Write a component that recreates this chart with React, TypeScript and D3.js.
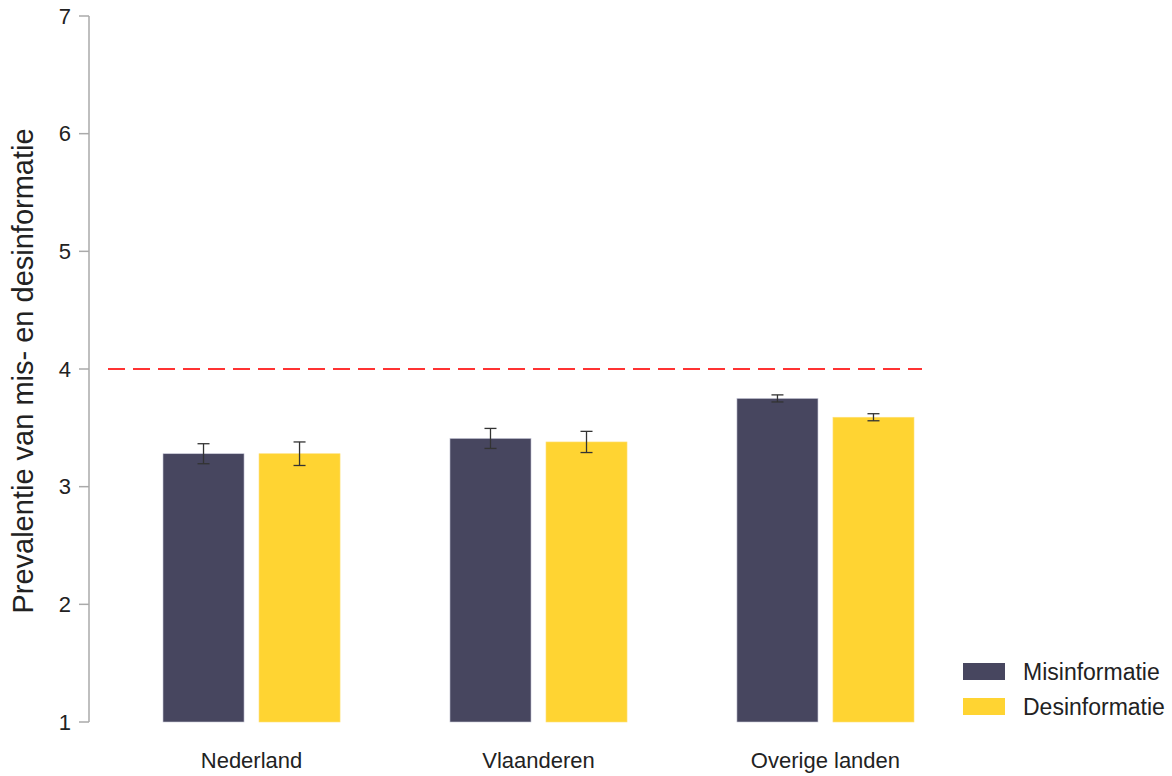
import React from "react";
import * as d3 from "d3";

const categories = ["Nederland", "Vlaanderen", "Overige landen"];
const seriesNames = ["Misinformatie", "Desinformatie"];
const misinfo = [3.28, 3.41, 3.75];
const misinfoErr = [0.085, 0.085, 0.03];
const desinfo = [3.28, 3.38, 3.59];
const desinfoErr = [0.1, 0.09, 0.03];
const yTicks = [1, 2, 3, 4, 5, 6, 7];
const refValue = 4;
const colors = ["#47465F", "#FFD432"];

export default function App() {
  const W = 1172, H = 776;
  const y = d3.scaleLinear().domain([1, 7]).range([722, 16]);
  const x0 = d3.scaleBand().domain(categories).range([163, 914]).paddingInner(0.383).paddingOuter(0);
  const x1 = d3.scaleBand().domain(seriesNames).range([0, x0.bandwidth()]).paddingInner(0.156);
  const values = [misinfo, desinfo];
  const errs = [misinfoErr, desinfoErr];
  const font = "'Liberation Sans', Arial, sans-serif";
  return (
    <svg width={W} height={H} style={{ position: "absolute", left: 0, top: 0, background: "#fff" }} fontFamily={font}>
      <line x1={89} x2={89} y1={y(7)} y2={y(1)} stroke="#aaa" strokeWidth={1.5} />
      {yTicks.map((t) => (
        <g key={t}>
          <line x1={79} x2={89} y1={y(t)} y2={y(t)} stroke="#aaa" strokeWidth={1.5} />
          <text x={71} y={y(t)} dy="0.35em" textAnchor="end" fontSize={22} fill="#222">{t}</text>
        </g>
      ))}
      <text transform={`translate(33,${(y(7) + y(1)) / 2 + 2}) rotate(-90)`} textAnchor="middle" fontSize={29} fill="#222">
        Prevalentie van mis- en desinformatie
      </text>
      {categories.map((c, i) => (
        <g key={c} transform={`translate(${x0(c)},0)`}>
          {seriesNames.map((s, j) => {
            const v = values[j][i];
            const e = errs[j][i];
            const bx = x1(s)!;
            const cx = bx + x1.bandwidth() / 2;
            return (
              <g key={s}>
                <rect x={bx} y={y(v)} width={x1.bandwidth()} height={y(1) - y(v)} fill={colors[j]} stroke={j === 0 ? "#c8c8d8" : "#ffe07a"} strokeWidth={0.6} />
                <line x1={cx} x2={cx} y1={y(v + e)} y2={y(v - e)} stroke="#333" strokeWidth={1.3} />
                <line x1={cx - 6} x2={cx + 6} y1={y(v + e)} y2={y(v + e)} stroke="#333" strokeWidth={1.3} />
                <line x1={cx - 6} x2={cx + 6} y1={y(v - e)} y2={y(v - e)} stroke="#333" strokeWidth={1.3} />
              </g>
            );
          })}
          <text x={x0.bandwidth() / 2} y={760} dy="0.35em" textAnchor="middle" fontSize={22} fill="#222">{c}</text>
        </g>
      ))}
      <line x1={108} x2={922} y1={y(refValue)} y2={y(refValue)} stroke="#FF3333" strokeWidth={2.2} strokeDasharray="17 8" />
      {seriesNames.map((s, j) => (
        <g key={s} transform={`translate(963,${663 + j * 35})`}>
          <rect x={0} y={0} width={42} height={17} fill={colors[j]} />
          <text x={60} y={9} dy="0.35em" fontSize={23} fill="#222">{s}</text>
        </g>
      ))}
    </svg>
  );
}
